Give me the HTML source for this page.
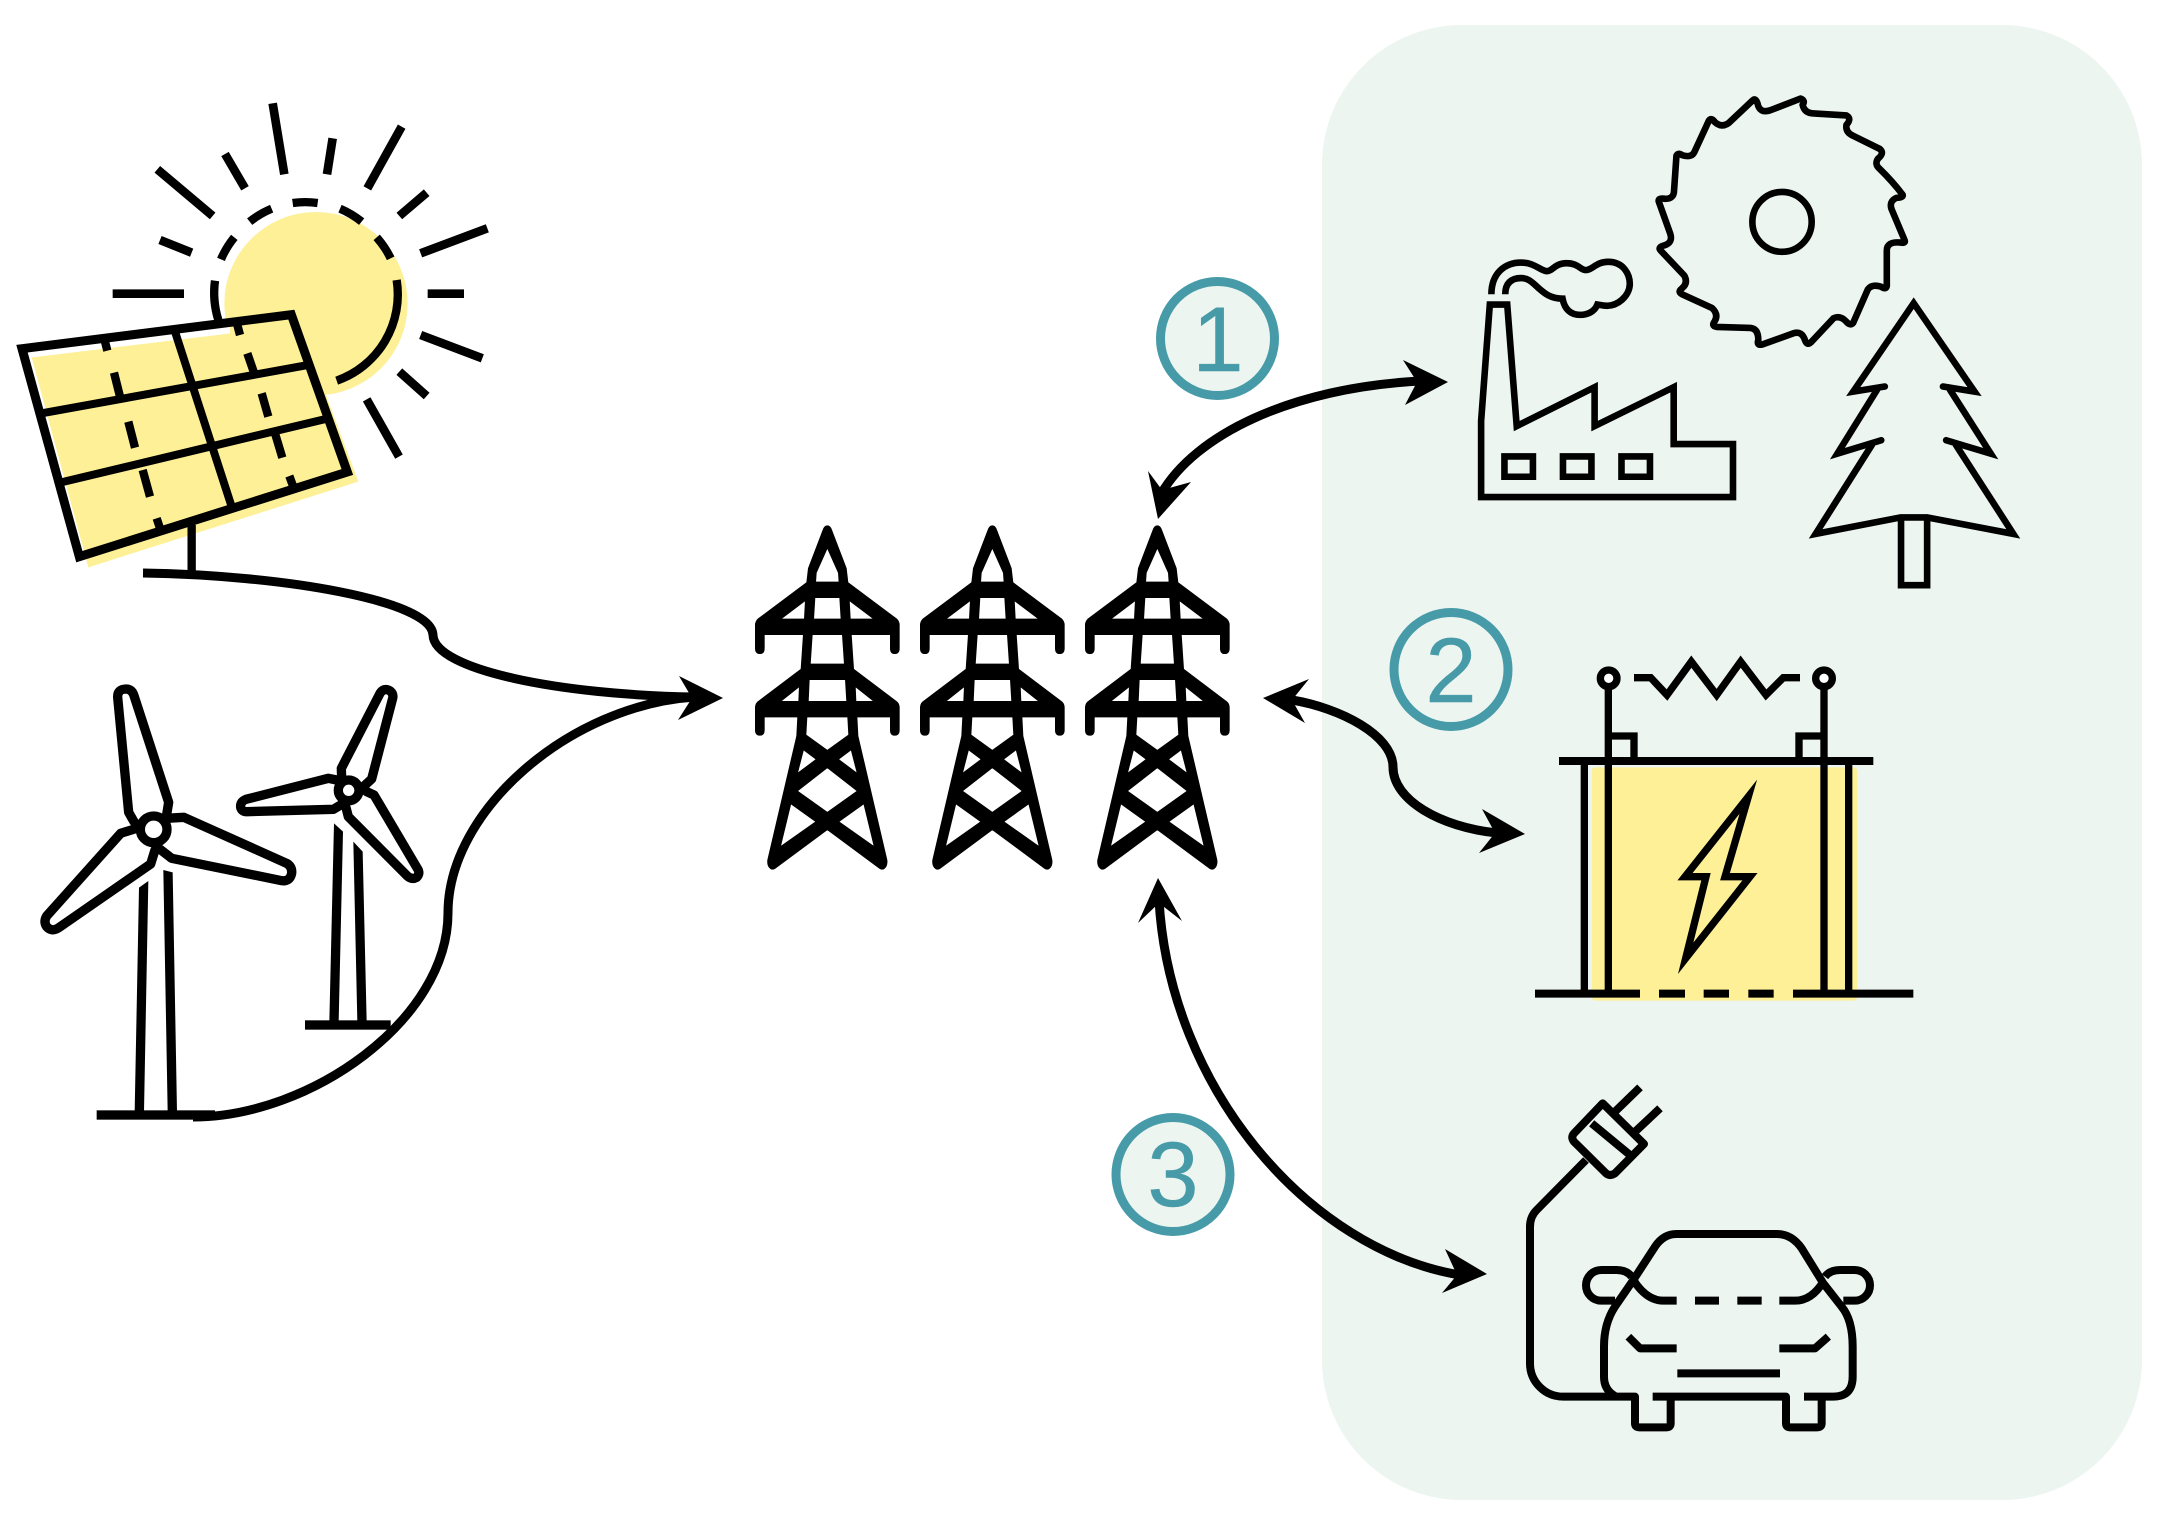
<!DOCTYPE html>
<html><head><meta charset="utf-8"><style>
html,body{margin:0;padding:0;background:#fff}
svg{display:block}
text{font-family:"Liberation Sans",sans-serif;font-size:92px;fill:#479ba8;stroke:#479ba8;stroke-width:.5px;text-anchor:middle}
.ne *{vector-effect:non-scaling-stroke}
</style></head><body>
<svg width="2168" height="1526" viewBox="0 0 2168 1526" xmlns="http://www.w3.org/2000/svg">
<rect width="2168" height="1526" fill="#fff"/>
<rect x="1322" y="25" width="820" height="1475" rx="140" fill="#ecf5f0"/>

<!-- solar -->
<g transform="translate(0,80) scale(.33333)" fill="none" stroke="#000" stroke-width="26">
<circle cx="948" cy="671" r="275" fill="#fdf097" stroke="none"/>
<polygon points="95,832 900,735 1075,1205 265,1462" fill="#fdf097" stroke="none"/>
<polygon points="95,832 690,760 690,725 60,800 75,840" fill="#fff" stroke="none"/>
<path d="M1190,600 A274,274 0 0 1 1010,902" stroke-width="25"/>
<path d="M1172,535 A274,274 0 0 0 1130,472" stroke-width="25"/>
<path d="M1085,425 A274,274 0 0 0 1020,386" stroke-width="25"/>
<path d="M953,369 A274,274 0 0 0 878,369" stroke-width="25"/>
<path d="M815,386 A274,274 0 0 0 749,425" stroke-width="25"/>
<path d="M703,472 A274,274 0 0 0 663,538" stroke-width="25"/>
<path d="M645,602 A274,274 0 0 0 655,720" stroke-width="25"/>
<polygon points="66,806 874,704 1042,1176 238,1430" stroke-linejoin="miter" stroke-width="27"/>
<path d="M525,755L695,1280M125,1000L925,855M180,1208L985,1015" stroke-width="24"/>
<path d="M315,785L322,812M342,878L360,950M385,1025L405,1103M428,1170L450,1250M470,1315L480,1345M712,735L720,765M742,820L762,878M785,940L805,1010M825,1060L847,1133M868,1188L878,1215" stroke-width="25"/>
<path d="M575,1335L575,1475" stroke-width="25"/>
<path d="M818,70L853,283M998,175L981,283M1205,140L1102,325M1280,338L1198,408M1462,445L1262,520M1392,641L1283,641M1262,765L1447,835M1198,875L1280,948M1100,958L1197,1130M338,641L552,641M472,268L638,408M675,222L735,325M480,480L575,518"/>
</g>

<!-- turbines -->
<g transform="translate(0,660) scale(.33333)" fill="none" stroke="#000" stroke-width="28" stroke-linejoin="round" stroke-linecap="round">
<path d="M402,485 L386,457 L353,112 Q352,88 377,87 Q396,87 402,107 L506,427 L499,470"/>
<path d="M499,475 L552,472 L860,610 Q877,620 875,640 Q870,665 845,662 L515,595 L470,560"/>
<path d="M410,505 L362,520 L140,768 Q130,785 140,800 Q155,818 178,802 L452,612 L465,570"/>
<circle cx="461" cy="508" r="40" fill="#fff"/>
<g fill="#000" stroke="none">
<polygon points="417,683 445,663 432,1355 404,1355"/>
<polygon points="490,630 518,637 531,1355 503,1355"/>
<rect x="290" y="1351" width="355" height="28"/>
</g>
<path d="M1025,355 L1024,325 L1140,100 Q1150,85 1165,90 Q1182,98 1178,115 L1115,357 L1090,380"/>
<path d="M1010,360 L985,355 L738,418 Q720,425 722,442 Q725,455 740,455 L1000,448 L1030,430"/>
<path d="M1100,395 L1122,405 L1252,625 Q1262,640 1250,652 Q1235,660 1222,648 L1045,470 L1036,435"/>
<circle cx="1046" cy="391" r="31" fill="#fff"/>
<g fill="#000" stroke="none">
<polygon points="1002,490 1029,515 1016,1085 988,1085"/>
<polygon points="1060,545 1088,575 1100,1085 1072,1085"/>
<rect x="915" y="1081" width="257" height="28"/>
</g>
</g>

<!-- pylons -->
<defs>
<g id="py">
<path fill="#000" stroke="#000" stroke-width="4" stroke-linejoin="round" fill-rule="evenodd" d="M0,48 Q8,48 12,60 L56,175 L61,218 L208,328 Q215,335 215,345 L215,415 Q215,430 202,430 Q190,430 190,415 L190,373 L71,373 L78,478 L208,576 Q215,583 215,592 L215,660 Q215,675 202,675 Q190,675 190,660 L190,620 L88,620 L91,678 L178,1050 Q180,1068 170,1075 Q165,1079 158,1075 L0,958 L-158,1075 Q-165,1079 -170,1075 Q-180,1068 -178,1050 L-91,678 L-88,620 L-190,620 L-190,660 Q-190,675 -202,675 Q-215,675 -215,660 L-215,592 Q-215,583 -208,576 L-78,478 L-71,373 L-190,373 L-190,415 Q-190,430 -202,430 Q-215,430 -215,415 L-215,345 Q-215,335 -208,328 L-61,218 L-56,175 L-12,60 Q-8,48 0,48 Z
M0,112 L34,188 L36,217 L-36,217 L-34,188 Z
M-38,262 L38,262 L42,328 L-42,328 Z
M65,270 L142,328 L68,328 Z M-65,270 L-142,328 L-68,328 Z
M-46,373 L46,373 L52,463 L-52,463 Z
M-55,508 L55,508 L59,575 L-58,575 Z
M83,528 L142,575 L85,575 Z M-83,528 L-142,575 L-85,575 Z
M-62,620 L62,620 L65,675 L0,722 L-65,675 Z
M72,718 L91,792 L32,748 Z M-72,718 L-91,792 L-32,748 Z
M0,772 L91,843 L0,908 L-91,843 Z
M110,880 L142,1012 L33,935 Z M-110,880 L-142,1012 L-33,935 Z"/>
</g>
</defs>
<g transform="translate(740,510) scale(.33333)">
<use href="#py" x="262"/><use href="#py" x="757"/><use href="#py" x="1252"/>
</g>

<!-- factory, saw, tree -->
<g class="ne" transform="translate(1440,80) scale(.3954,.3444)" fill="none" stroke="#000" stroke-width="6.6" stroke-miterlimit="10">
<ellipse cx="865" cy="412" rx="75" ry="87"/>
<path stroke-linejoin="round" d="M912,54 Q925,60 917,72 Q922,97 945,97 L1028,103 Q1042,112 1028,130 Q1025,152 1045,162 L1112,200 Q1125,212 1108,228 Q1098,245 1112,258 Q1145,295 1170,333 Q1172,342 1155,342 Q1135,352 1142,375 L1175,465 Q1178,475 1165,472 Q1130,468 1130,495 L1130,598 Q1128,610 1115,600 Q1092,592 1082,608 L1045,705 Q1038,715 1028,702 Q1012,682 995,692 L938,762 Q928,772 923,755 Q915,728 895,735 L815,768 Q800,772 805,755 Q805,722 785,720 L700,717 Q685,715 695,700 Q705,680 688,662 L612,622 Q600,615 612,605 Q628,590 618,568 L558,495 Q550,485 568,480 Q590,472 582,445 L553,352 Q552,342 570,345 Q592,345 592,320 L598,220 Q602,210 612,218 Q638,228 645,205 L680,118 Q686,108 695,122 Q712,140 730,125 L790,60 Q798,50 803,68 Q808,98 835,88 Z"/>
<path d="M104,1211 L741,1211 L741,1057 L591,1057 L591,892 L391,1005 L391,892 L194,1005 L170,652 L126,652 L104,990 Z"/>
<rect x="163" y="1093" width="72" height="59"/><rect x="311" y="1093" width="72" height="59"/><rect x="459" y="1093" width="72" height="59"/>
<path d="M130,622 C130,560 165,530 205,530 C240,530 255,555 270,555 C285,555 290,532 320,532 C350,532 355,552 368,552 C385,552 395,528 425,528 C465,528 480,565 480,592 C480,625 450,660 415,655 L398,652 C390,675 370,682 355,682 C330,682 315,665 310,635 C280,635 265,620 250,605 C235,590 225,575 205,575 C180,575 165,590 165,622"/>
<path stroke-linecap="round" d="M1125,890 L1045,905 L1198,648 L1352,905 L1272,890"/>
<path stroke-linecap="round" d="M1105,900 L1005,1085 L1116,1046"/>
<path stroke-linecap="round" d="M1290,900 L1393,1085 L1280,1046"/>
<path stroke-linecap="round" d="M1092,1060 L950,1318 L1165,1270 L1232,1270 L1450,1318 L1305,1060"/>
<path d="M1166,1270 L1166,1467 L1232,1467 L1232,1270"/>
</g>

<!-- battery -->
<g transform="translate(1520,650) scale(.33333)" fill="none" stroke="#000" stroke-width="22" stroke-miterlimit="10">
<rect x="215" y="352" width="797" height="700" rx="12" fill="#fdf097" stroke="none"/>
<path d="M117,333L1060,333" stroke-width="24"/>
<path d="M45,1031L360,1031M417,1031L495,1031M551,1031L627,1031M685,1031L761,1031M819,1031L1180,1031" stroke-width="24"/>
<path d="M193,340L193,1025M265,110L265,1030M912,110L912,1030M986,340L986,1025"/>
<circle cx="266" cy="85" r="25" fill="#fff"/><circle cx="912" cy="85" r="25" fill="#fff"/>
<path d="M265,258L342,258L342,330M912,258L837,258L837,330"/>
<path d="M342,83L392,83L441,135L514,35L590,135L662,35L738,135L790,83L840,83"/>
<path d="M685,440L495,680L558,680L497,925L690,680L615,680Z"/>
</g>

<!-- car -->
<g transform="translate(1500,1080) scale(.33333)" fill="none" stroke="#000" stroke-width="24" stroke-linejoin="round">
<path d="M420,22L345,95M480,85L400,160"/>
<path d="M308,70L432,192L345,280Q330,290 318,280L222,185Q212,172 222,160Z"/>
<path d="M275,130L390,225"/>
<path d="M258,240L110,390Q90,410 90,440L90,850A100,100 0 0 0 190,950L405,950L405,1030Q405,1042 418,1042L500,1042Q512,1042 512,1030L512,950"/>
<path d="M458,950L858,950L858,1030Q858,1042 870,1042L950,1042Q965,1042 965,1030L965,950"/>
<path d="M912,950L1000,950Q1058,950 1058,890L1058,800Q1058,720 1025,680L970,610L905,505Q875,462 830,462L530,462Q490,462 465,500L400,600L345,680Q312,730 312,800L312,890Q312,930 345,948"/>
<path d="M395,590Q380,570 350,570L304,570A46,46 0 0 0 304,662L345,662"/>
<path d="M975,590Q990,570 1020,570L1064,570A46,46 0 0 1 1064,662L1030,662"/>
<path d="M400,600Q440,662 490,662L530,662M585,662L657,662M712,662L785,662M838,662L885,662Q935,662 970,605"/>
<path d="M385,770L420,805L530,805M985,770L945,805L838,805"/>
<path d="M532,880L840,880"/>
</g>

<!-- connectors -->
<g fill="none" stroke="#000" stroke-width="9">
<path d="M143,573 C280,575 432,600 433,635 C434,670 560,695 695,697"/>
<path d="M193,1117 C310,1117 448,1020 448,913 C448,810 570,705 695,697"/>
<path d="M1161,494 C1195,435 1290,388 1420,381"/>
<path d="M1292,700 C1340,708 1393,735 1393,767 C1393,800 1440,827 1497,833"/>
<path d="M1159,900 C1170,1090 1310,1250 1460,1275"/>
</g>
<g fill="#000">
<polygon points="723,698 679,676 692,698 678,720"/>
<polygon points="1448,382 1403,360 1417,382 1405,405"/>
<polygon points="1158,519 1148,471 1162,490 1191,482"/>
<polygon points="1263,698 1309,679 1292,700 1305,723"/>
<polygon points="1525,834 1482,809 1495,833 1479,853"/>
<polygon points="1158,878 1138,923 1159,903 1182,921"/>
<polygon points="1487,1274 1445,1249 1457,1275 1442,1293"/>
</g>

<!-- badges -->
<g fill="#ecf5f0" stroke="#479ba8" stroke-width="9">
<circle cx="1217.5" cy="338.5" r="57"/>
<circle cx="1451" cy="669.5" r="57"/>
<circle cx="1173" cy="1174.5" r="57"/>
</g>
<text x="1218" y="371">1</text>
<text x="1451" y="702">2</text>
<text x="1173" y="1206">3</text>
</svg>
</body></html>
